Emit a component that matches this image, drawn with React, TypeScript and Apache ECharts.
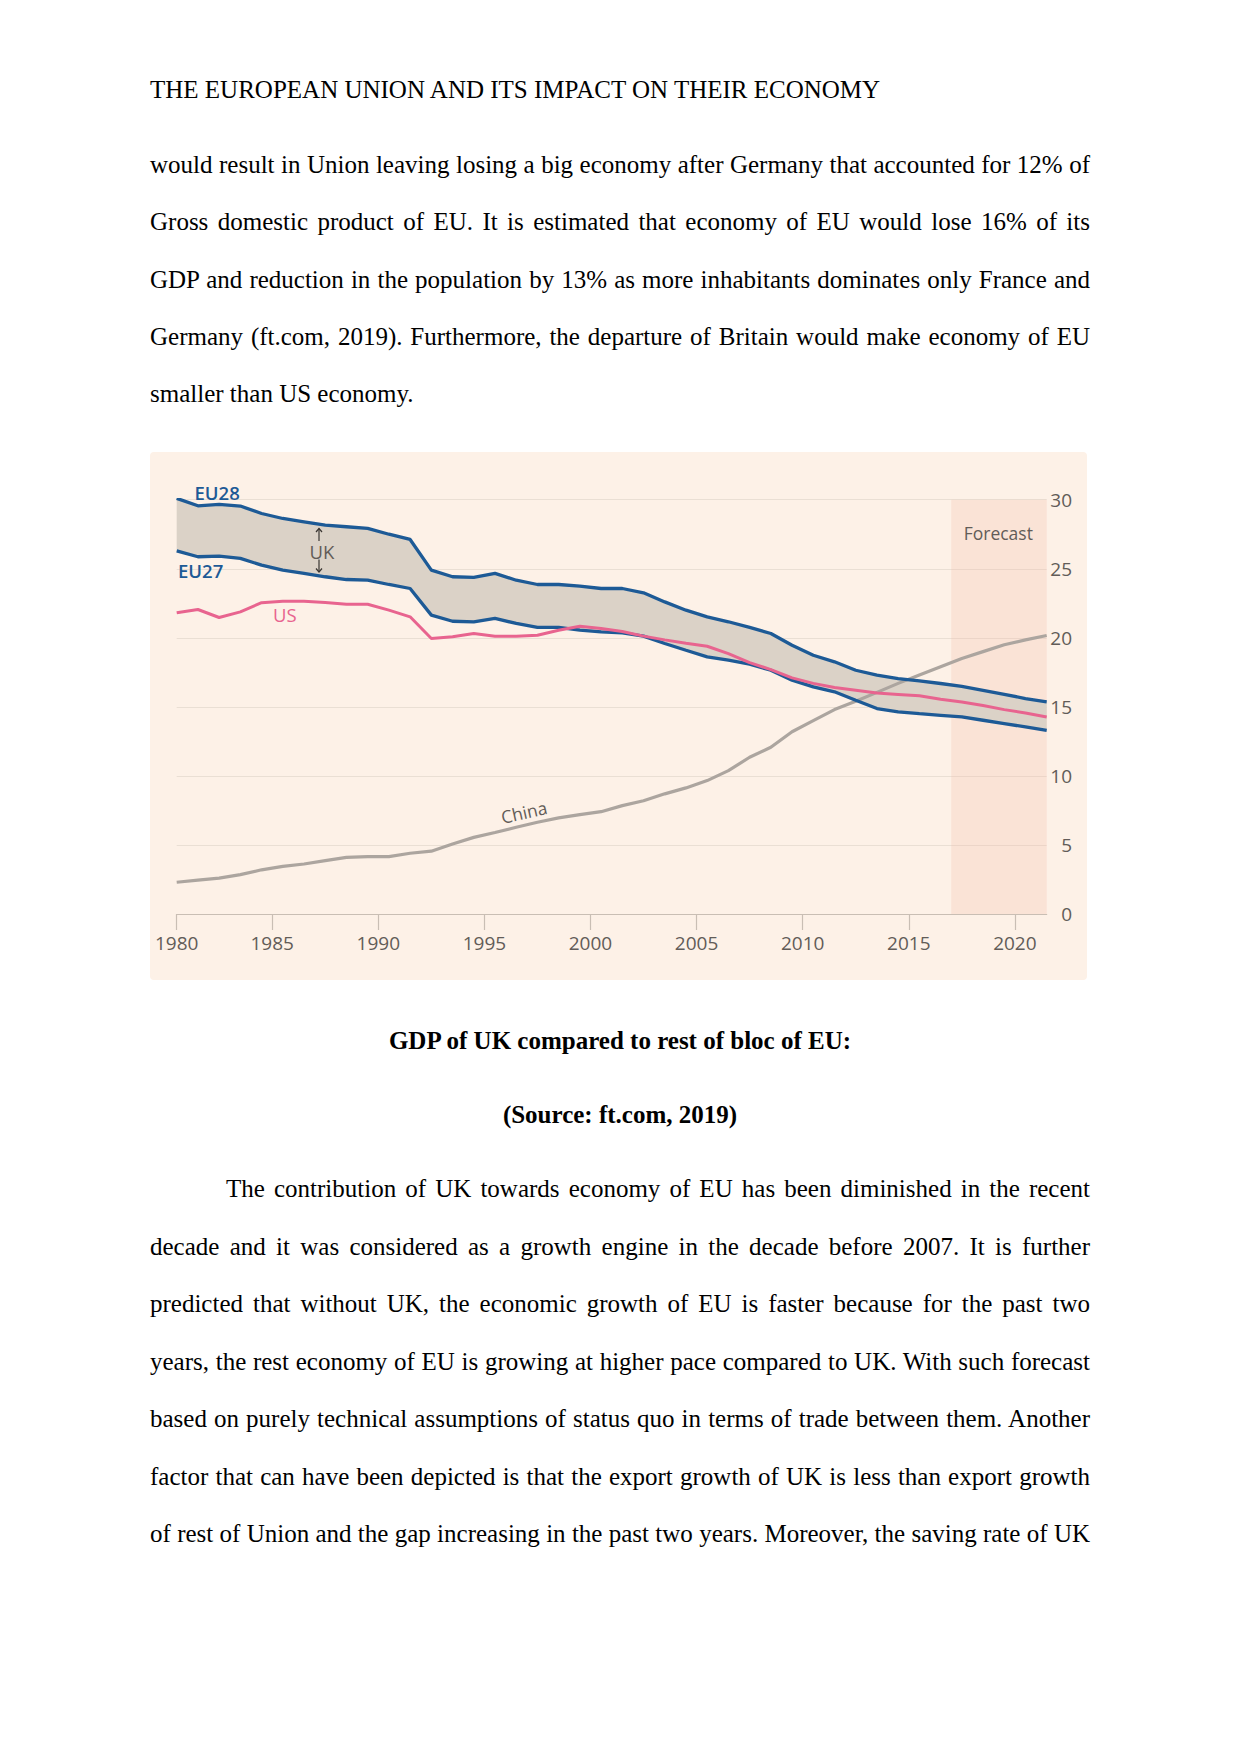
import React, { useEffect, useRef } from 'react';
import * as echarts from 'echarts';

// ---- Chart data (share of world GDP, %) ----
const YEARS = [
  1980, 1981, 1982, 1983, 1984, 1985, 1986, 1987, 1988, 1989,
  1990, 1991, 1992, 1993, 1994, 1995, 1996, 1997, 1998, 1999,
  2000, 2001, 2002, 2003, 2004, 2005, 2006, 2007, 2008, 2009,
  2010, 2011, 2012, 2013, 2014, 2015, 2016, 2017, 2018, 2019,
  2020, 2021,
];
const EU28 = [
  30.1, 29.56, 29.66, 29.54, 29.0, 28.64, 28.4, 28.16, 28.04, 27.92,
  27.5, 27.12, 24.9, 24.42, 24.37, 24.66, 24.17, 23.86, 23.86, 23.74,
  23.57, 23.57, 23.26, 22.6, 22.0, 21.52, 21.16, 20.75, 20.31, 19.46,
  18.74, 18.26, 17.65, 17.29, 17.05, 16.88, 16.69, 16.49, 16.2, 15.91,
  15.6, 15.36,
];
const EU27 = [
  26.3, 25.87, 25.91, 25.75, 25.26, 24.9, 24.66, 24.42, 24.22, 24.17,
  23.86, 23.57, 21.64, 21.2, 21.16, 21.4, 21.04, 20.75, 20.75, 20.55,
  20.43, 20.35, 20.12, 19.59, 19.1, 18.62, 18.38, 18.09, 17.65, 16.93,
  16.45, 16.09, 15.48, 14.88, 14.64, 14.51, 14.39, 14.27, 14.03, 13.79,
  13.55, 13.3,
];
const US = [
  21.81, 22.05, 21.47, 21.88, 22.54, 22.65, 22.65, 22.56, 22.43, 22.43,
  22.0, 21.52, 19.95, 20.07, 20.31, 20.12, 20.12, 20.19, 20.55, 20.84,
  20.67, 20.45, 20.12, 19.85, 19.6, 19.39, 18.86, 18.2, 17.7, 17.1,
  16.7, 16.4, 16.2, 16.0, 15.9, 15.8, 15.55, 15.35, 15.1, 14.8,
  14.55, 14.27,
];
const CHINA = [
  2.3, 2.45, 2.6, 2.85, 3.2, 3.45, 3.62, 3.86, 4.1, 4.15,
  4.15, 4.4, 4.55, 5.07, 5.55, 5.9, 6.28, 6.64, 6.96, 7.2,
  7.41, 7.85, 8.2, 8.7, 9.13, 9.66, 10.38, 11.35, 12.07, 13.2,
  14.0, 14.8, 15.4, 16.05, 16.7, 17.3, 17.9, 18.5, 19.0, 19.5,
  19.85, 20.17,
];
const X_TICK_LABELS = [1980, 1985, 1990, 1995, 2000, 2005, 2010, 2015, 2020];
const Y_MIN = 0;
const Y_MAX = 30;
const Y_STEP = 5;
const FORECAST_FROM = 2017;

// ---- Page text ----
const HEADER = 'THE EUROPEAN UNION AND ITS IMPACT ON THEIR ECONOMY';
const PARA1 = [
  'would result in Union leaving losing a big economy after Germany that accounted for 12% of',
  'Gross domestic product of EU. It is estimated that economy of EU would lose 16% of its',
  'GDP and reduction in the population by 13% as more inhabitants dominates only France and',
  'Germany (ft.com, 2019). Furthermore, the departure of Britain would make economy of EU',
  'smaller than US economy.',
];
const CAPTION = ['GDP of UK compared to rest of bloc of EU:', '(Source: ft.com, 2019)'];
const PARA2 = [
  'The contribution of UK towards economy of EU has been diminished in the recent',
  'decade and it was considered as a growth engine in the decade before 2007. It is further',
  'predicted that without UK, the economic growth of EU is faster because for the past two',
  'years, the rest economy of EU is growing at higher pace compared to UK. With such forecast',
  'based on purely technical assumptions of status quo in terms of trade between them. Another',
  'factor that can have been depicted is that the export growth of UK is less than export growth',
  'of rest of Union and the gap increasing in the past two years. Moreover, the saving rate of UK',
];

const SERIF = '"Liberation Serif", "Times New Roman", serif';
const SANS = '"Open Sans", "Noto Sans", sans-serif';
const BLUE = '#1d5a96';
const PINK = '#e8648f';
const GREY_LINE = '#aca59f';
const TEXT_GREY = '#625c58';
const ARROW = '#3a3632';

type LineProps = {
  baseline: number;
  text: string;
  align?: 'justify' | 'left' | 'center';
  indent?: number;
  bold?: boolean;
};

function Line({ baseline, text, align = 'justify', indent = 0, bold = false }: LineProps) {
  return (
    <div
      style={{
        position: 'absolute',
        left: 150 + indent,
        width: 940 - indent,
        top: baseline - 20.94,
        height: 25,
        lineHeight: '25px',
        fontSize: 25,
        fontFamily: SERIF,
        fontWeight: bold ? 700 : 400,
        whiteSpace: 'nowrap',
        textAlign: align,
        textAlignLast: align as any,
        color: '#000',
      }}
    >
      {text}
    </div>
  );
}

function Chart() {
  const ref = useRef<HTMLDivElement>(null);
  useEffect(() => {
    const chart = echarts.init(ref.current!, null, { renderer: 'svg' });
    // annual values plotted at mid-year
    const xs = YEARS.map((y) => y + 0.5);
    const pairs = (vals: number[]) => xs.map((x, i) => [x, vals[i]]);
    const xMin = xs[0];
    const xMax = xs[xs.length - 1];
    const tickPos = X_TICK_LABELS.map((t) => Math.max(t, xMin));
    const upper = pairs(EU28);
    const lower = pairs(EU27);

    const labelFont = (size: number, weight: string | number = 'normal') =>
      `${weight} ${size}px ${SANS}`;

    const option: any = {
      animation: false,
      backgroundColor: 'transparent',
      grid: { left: 26.7, right: 40.3, top: 47.7, bottom: 66, containLabel: false },
      xAxis: {
        type: 'value',
        min: xMin,
        max: xMax,
        axisLine: { show: true, lineStyle: { color: '#c9beb4', width: 1.2 } },
        axisTick: {
          show: true,
          length: 16,
          inside: false,
          customValues: tickPos,
          lineStyle: { color: '#c9beb4', width: 1.2 },
        },
        axisLabel: {
          customValues: tickPos,
          formatter: (v: number) => String(Math.floor(v)),
          margin: 19.5,
          color: TEXT_GREY,
          fontSize: 19,
          fontFamily: SANS,
        },
        splitLine: { show: false },
      },
      yAxis: {
        type: 'value',
        position: 'right',
        min: Y_MIN,
        max: Y_MAX,
        interval: Y_STEP,
        axisLine: { show: false },
        axisTick: { show: false },
        axisLabel: {
          align: 'right',
          margin: 25.3,
          color: TEXT_GREY,
          fontSize: 19,
          fontFamily: SANS,
        },
        splitLine: { show: true, lineStyle: { color: '#eadfd4', width: 1.2 } },
      },
      series: [
        {
          name: 'UK band',
          type: 'custom',
          silent: true,
          z: 1,
          data: [[xMin, EU27[0]]],
          renderItem: (_params: any, api: any) => {
            const pts = upper
              .map((p) => api.coord(p))
              .concat(lower.slice().reverse().map((p) => api.coord(p)));
            return {
              type: 'polygon',
              shape: { points: pts },
              style: { fill: '#dbd2c7', stroke: 'none' },
            };
          },
          markArea: {
            silent: true,
            itemStyle: { color: 'rgba(245,190,170,0.27)' },
            data: [[{ xAxis: FORECAST_FROM, yAxis: Y_MIN }, { xAxis: xMax, yAxis: Y_MAX }]],
          },
        },
        {
          name: 'China',
          type: 'line',
          data: pairs(CHINA),
          symbol: 'none',
          lineStyle: { color: GREY_LINE, width: 3.2 },
          z: 3,
        },
        {
          name: 'EU27',
          type: 'line',
          data: lower,
          symbol: 'none',
          lineStyle: { color: BLUE, width: 3.3 },
          z: 4,
        },
        {
          name: 'EU28',
          type: 'line',
          data: upper,
          symbol: 'none',
          lineStyle: { color: BLUE, width: 3.3 },
          z: 4,
        },
        {
          name: 'US',
          type: 'line',
          data: pairs(US),
          symbol: 'none',
          lineStyle: { color: PINK, width: 3 },
          z: 5,
        },
      ],
      graphic: [
        { type: 'text', x: 44.5, y: 40.5, z: 10, style: { text: 'EU28', fill: BLUE, font: labelFont(18.5, 600), textAlign: 'left', textVerticalAlign: 'middle' } },
        { type: 'text', x: 28, y: 118.5, z: 10, style: { text: 'EU27', fill: BLUE, font: labelFont(18.5, 600), textAlign: 'left', textVerticalAlign: 'middle' } },
        { type: 'text', x: 123, y: 162.7, z: 10, style: { text: 'US', fill: PINK, font: labelFont(18.5), textAlign: 'left', textVerticalAlign: 'middle' } },
        { type: 'text', x: 159.5, y: 99.7, z: 10, style: { text: 'UK', fill: TEXT_GREY, font: labelFont(18.5), textAlign: 'left', textVerticalAlign: 'middle' } },
        // up arrow
        { type: 'line', z: 10, shape: { x1: 169, y1: 76.5, x2: 169, y2: 89 }, style: { stroke: ARROW, lineWidth: 1.2 } },
        { type: 'polyline', z: 10, shape: { points: [[166, 80], [169, 76.5], [172, 80]] }, style: { stroke: ARROW, lineWidth: 1.2, fill: 'none' } },
        // down arrow
        { type: 'line', z: 10, shape: { x1: 169, y1: 107.5, x2: 169, y2: 120 }, style: { stroke: ARROW, lineWidth: 1.2 } },
        { type: 'polyline', z: 10, shape: { points: [[166, 116.5], [169, 120], [172, 116.5]] }, style: { stroke: ARROW, lineWidth: 1.2, fill: 'none' } },
        { type: 'text', x: 374, y: 360, rotation: 0.22, z: 10, style: { text: 'China', fill: TEXT_GREY, font: labelFont(17.5), textAlign: 'center', textVerticalAlign: 'middle' } },
        { type: 'text', x: 848.3, y: 80.5, z: 10, style: { text: 'Forecast', fill: TEXT_GREY, font: labelFont(17.5), textAlign: 'center', textVerticalAlign: 'middle' } },
      ],
    };
    chart.setOption(option);
    return () => chart.dispose();
  }, []);
  return (
    <div
      ref={ref}
      style={{
        position: 'absolute',
        left: 150,
        top: 452,
        width: 937,
        height: 528,
        background: '#fdf1e7',
        borderRadius: 4,
      }}
    />
  );
}

export default function App() {
  const p1Base = 172.7;
  const p2Base = 1197.3;
  const step1 = 57.4;
  const step2 = 57.5;
  return (
    <div
      style={{
        position: 'absolute',
        left: 0,
        top: 0,
        width: 1241,
        height: 1754,
        background: '#fff',
        overflow: 'hidden',
      }}
    >
      <Line baseline={98.3} text={HEADER} align="left" />
      {PARA1.map((t, i) => (
        <Line key={'a' + i} baseline={p1Base + i * step1} text={t} align={i === PARA1.length - 1 ? 'left' : 'justify'} />
      ))}
      <Chart />
      <Line baseline={1049.3} text={CAPTION[0]} align="center" bold />
      <Line baseline={1123.3} text={CAPTION[1]} align="center" bold />
      {PARA2.map((t, i) => (
        <Line key={'b' + i} baseline={p2Base + i * step2} text={t} indent={i === 0 ? 76 : 0} />
      ))}
    </div>
  );
}
